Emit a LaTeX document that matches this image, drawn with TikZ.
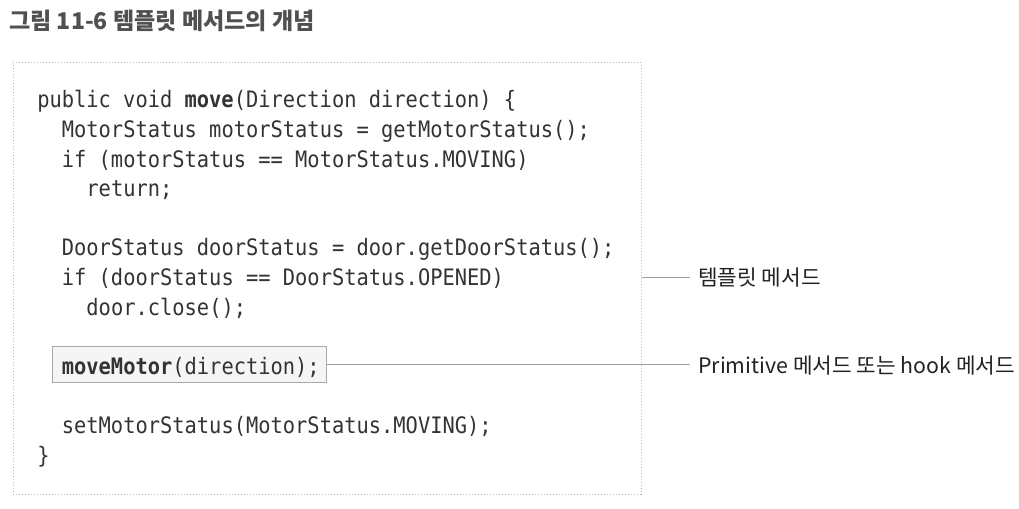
\documentclass[tikz,border=0pt]{standalone}
\usepackage{fontspec}
\setmainfont{Noto Sans CJK KR}
\newfontfamily\krfont{Noto Sans CJK KR}
\newfontfamily\codefont[FakeStretch=0.9]{DejaVu Sans Mono}
\definecolor{codegray}{HTML}{333333}
\definecolor{titlegray}{HTML}{505050}
\definecolor{labelblack}{HTML}{222222}
\definecolor{linegray}{HTML}{A0A0A0}
\definecolor{framegray}{HTML}{B8B8B8}
\definecolor{boxfill}{HTML}{F4F5F4}
\definecolor{boxdraw}{HTML}{A8A8A8}
\frenchspacing
\begin{document}
\begin{tikzpicture}[x=0.75pt,y=-0.75pt,
  codeline/.style={anchor=base west, inner sep=0pt, text=codegray,
    font=\codefont\fontsize{17}{20}\selectfont},
  titletext/.style={anchor=base west, inner sep=0pt, text=titlegray,
    font=\krfont\bfseries\fontsize{17.3}{20}\selectfont},
  labeltext/.style={anchor=west, inner ysep=0pt, inner xsep=6pt, text=labelblack,
    font=\krfont\fontsize{16}{19}\selectfont},
  framebox/.style={draw=framegray, line width=0.75pt, dash pattern=on 0.75pt off 1.5pt,
    minimum width=471pt, minimum height=323.25pt, inner sep=0pt},
  hlbox/.style={draw=boxdraw, fill=boxfill, line width=0.75pt,
    minimum width=205.5pt, minimum height=27pt, inner sep=0pt},
  connector/.style={draw=linegray, line width=0.75pt}
]
\useasboundingbox (0,0) rectangle (1019,509);
\fill[white] (0,0) rectangle (1019,509);

\node[titletext] (title) at (9,30) {그림 11-6 템플릿 메서드의 개념};

\node[framebox] (frame) at (327,278.5) {};
\node[hlbox] (mmbox) at (189,364) {};

\node[codeline] (l1) at (37,108) {public void \textbf{move}(Direction direction) \{};
\node[codeline] (l2) at (61.6,137.6) {MotorStatus motorStatus = getMotorStatus();};
\node[codeline] (l3) at (61.6,167.2) {if (motorStatus == MotorStatus.MOVING)};
\node[codeline] (l4) at (86.2,196.8) {return;};
\node[codeline] (l6) at (61.6,256) {DoorStatus doorStatus = door.getDoorStatus();};
\node[codeline] (l7) at (61.6,285.6) {if (doorStatus == DoorStatus.OPENED)};
\node[codeline] (l8) at (86.2,315.2) {door.close();};
\node[codeline] (l10) at (61.6,374.4) {\textbf{moveMotor}(direction);};
\node[codeline] (l12) at (61.6,433.6) {setMotorStatus(MotorStatus.MOVING);};
\node[codeline] (l13) at (37,463.2) {\}};

\node[labeltext] (tmpl) at (690,278) {템플릿 메서드};
\node[labeltext] (prim) at (690,366) {Primitive 메서드 또는 hook 메서드};

\draw[connector] (frame.east |- tmpl.west) -- (tmpl.west);
\draw[connector] (mmbox.east) -- (prim.west |- mmbox.east);
\end{tikzpicture}
\end{document}
